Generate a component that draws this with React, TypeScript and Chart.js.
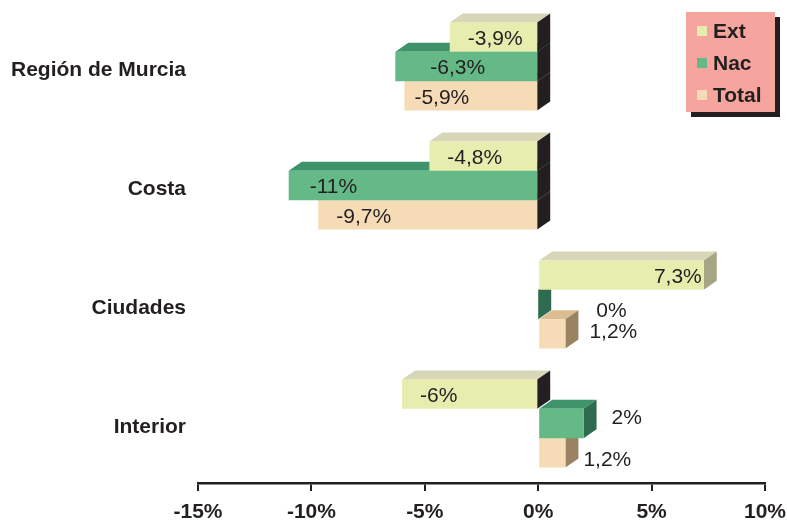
import { useEffect, useRef } from "react";
import { Chart, registerables } from "chart.js";

Chart.register(...registerables);

const categories = ["Región de Murcia", "Costa", "Ciudades", "Interior"];
const seriesNames = ["Ext", "Nac", "Total"];
const extValues = [-3.9, -4.8, 7.3, -6];
const nacValues = [-6.3, -11, 0, 2];
const totalValues = [-5.9, -9.7, 1.2, 1.2];
const xMin = -15;
const xMax = 10;
const xStep = 5;

// styles
const FRONT = ["#e7edae", "#64b986", "#f5dcb6"];
const TOP = ["#d7d6b6", "#3f936a", "#dcbc91"];
const SIDE_POS = ["#a6a584", "#2f6b4e", "#9b8262"];
const SIDE_NEG = "#231f20";
const INK = "#231f20";
const DX = 13;
const DY = 9;
const FONT = "'Liberation Sans', Arial, Helvetica, sans-serif";

// label nudges (dx, dy) per series / category, for the value labels only
const LABEL_NUDGE: number[][][] = [
  [[0, 0], [0, 0], [0, 0], [0, 0]],
  [[17, 0], [3, 0], [35, 5], [5, -7]],
  [[-8, 0], [0, 0], [1, -4], [-5, 5]],
];

const fmt = (v: number) => String(v).replace(".", ",") + "%";

const threeD = {
  id: "threeD",
  beforeDatasetsDraw(chart: any) {
    const ctx = chart.ctx;
    ctx.save();
    for (const d of [2, 1, 0]) {
      const meta = chart.getDatasetMeta(d);
      const vals = chart.data.datasets[d].data as number[];
      meta.data.forEach((bar: any, i: number) => {
        const { x, y, base, height } = bar.getProps(["x", "y", "base", "height"], true);
        const l = Math.min(x, base);
        const r = Math.max(x, base);
        const t = y - height / 2;
        const b = y + height / 2;
        if (r - l > 0) {
          ctx.fillStyle = TOP[d];
          ctx.beginPath();
          ctx.moveTo(l, t);
          ctx.lineTo(l + DX, t - DY);
          ctx.lineTo(r + DX, t - DY);
          ctx.lineTo(r, t);
          ctx.closePath();
          ctx.fill();
        }
        ctx.fillStyle = vals[i] < 0 ? SIDE_NEG : SIDE_POS[d];
        ctx.beginPath();
        ctx.moveTo(r, t);
        ctx.lineTo(r + DX, t - DY);
        ctx.lineTo(r + DX, b - DY);
        ctx.lineTo(r, b);
        ctx.closePath();
        ctx.fill();
      });
    }
    ctx.restore();
  },
  afterDatasetsDraw(chart: any) {
    const ctx = chart.ctx;
    ctx.save();
    ctx.font = `21px ${FONT}`;
    ctx.fillStyle = INK;
    ctx.textBaseline = "middle";
    for (const d of [0, 1, 2]) {
      const meta = chart.getDatasetMeta(d);
      const vals = chart.data.datasets[d].data as number[];
      meta.data.forEach((bar: any, i: number) => {
        const { x, y, base } = bar.getProps(["x", "y", "base"], true);
        const v = vals[i];
        const l = Math.min(x, base);
        const r = Math.max(x, base);
        const [nx, ny] = LABEL_NUDGE[d][i];
        let tx: number;
        if (v < 0) {
          ctx.textAlign = "left";
          tx = l + 18;
        } else if (r - l > 60) {
          ctx.textAlign = "right";
          tx = r - 2;
        } else {
          ctx.textAlign = "left";
          tx = r + DX + 10;
        }
        ctx.fillText(fmt(v), tx + nx, y + 2 + ny);
      });
    }
    ctx.restore();
  },
  afterDraw(chart: any) {
    const ctx = chart.ctx;
    ctx.save();
    const bx = 686, by = 12, bw = 89, bh = 100;
    ctx.fillStyle = INK;
    ctx.fillRect(bx + 5, by + 5, bw, bh);
    ctx.fillStyle = "#f5a59d";
    ctx.fillRect(bx, by, bw, bh);
    ctx.font = `bold 21px ${FONT}`;
    ctx.textBaseline = "middle";
    ctx.textAlign = "left";
    chart.data.datasets.forEach((ds: any, k: number) => {
      const cy = by + 19 + k * 32;
      ctx.fillStyle = FRONT[k];
      ctx.fillRect(bx + 11, cy - 5, 10, 10);
      ctx.fillStyle = INK;
      ctx.fillText(ds.label, bx + 27, cy + 1);
    });
    ctx.restore();
  },
};

export default function App() {
  const ref = useRef<HTMLCanvasElement | null>(null);
  useEffect(() => {
    if (!ref.current) return;
    const series = [extValues, nacValues, totalValues];
    const chart = new Chart(ref.current, {
      type: "bar",
      data: {
        labels: categories,
        datasets: series.map((vals, k) => ({
          label: seriesNames[k],
          data: vals,
          backgroundColor: FRONT[k],
          borderWidth: 0,
          barPercentage: 1,
          categoryPercentage: 0.74,
        })),
      },
      options: {
        indexAxis: "y",
        responsive: false,
        animation: false,
        layout: { padding: { top: 7, right: 22, bottom: 0, left: 0 } },
        plugins: { legend: { display: false }, tooltip: { enabled: false } },
        scales: {
          x: {
            type: "linear",
            position: "bottom",
            min: xMin,
            max: xMax,
            afterFit: (s: any) => {
              s.height = 38;
              s.paddingLeft = 0;
              s.paddingRight = 0;
              s.paddingTop = 0;
              s.paddingBottom = 0;
            },
            ticks: {
              stepSize: xStep,
              callback: (v: any) => `${v}%`,
              font: { family: FONT, size: 21, weight: "bold" },
              color: INK,
              padding: 9,
            },
            grid: { drawOnChartArea: false, drawTicks: true, tickLength: 8, color: INK, lineWidth: 2 },
            border: { display: true, color: INK, width: 2.5 },
          },
          y: {
            type: "category",
            afterFit: (s: any) => {
              s.width = 198;
              s.paddingLeft = 0;
              s.paddingRight = 0;
              s.paddingTop = 0;
              s.paddingBottom = 0;
            },
            ticks: {
              font: { family: FONT, size: 21, weight: "bold" },
              color: INK,
              padding: 12,
              labelOffset: 4,
            },
            grid: { display: false, drawTicks: false },
            border: { display: false },
          },
        },
      },
      plugins: [threeD],
    });
    return () => chart.destroy();
  }, []);
  return (
    <div style={{ position: "absolute", left: 0, top: 0, width: 787, height: 521, background: "#fff" }}>
      <canvas ref={ref} width={787} height={521} style={{ display: "block" }} />
    </div>
  );
}
